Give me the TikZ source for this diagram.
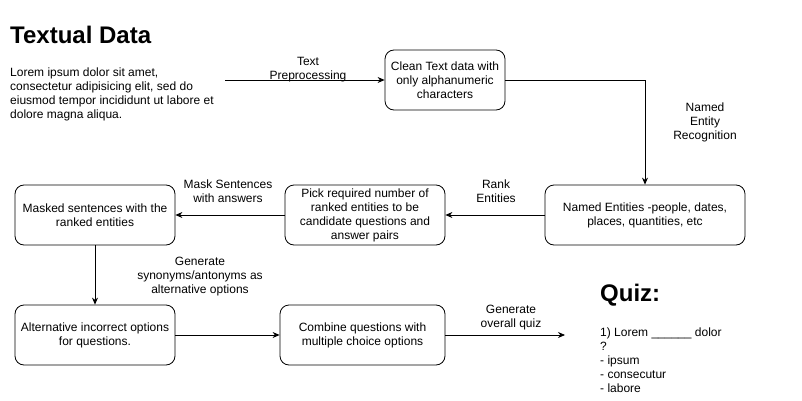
\documentclass[tikz,border=0pt]{standalone}
\usepackage{fontspec}
\setmainfont{Liberation Sans}
\usetikzlibrary{arrows.meta}
\begin{document}
\begin{tikzpicture}[x=1pt,y=-1pt,
  box/.style={draw=black,line width=0.8pt,rounded corners=9pt,align=center,inner sep=0pt,font=\fontsize{12}{14}\selectfont},
  lbl/.style={align=center,inner sep=0pt,font=\fontsize{12}{14}\selectfont},
  conn/.style={draw=black,line width=0.8pt,-{Stealth[length=7pt,width=6pt]}}]
\useasboundingbox (0,0) rectangle (802,401);
% title and text
\node[anchor=west,inner sep=0pt,font=\bfseries\fontsize{24}{28}\selectfont] (title) at (10,35) {Textual Data};
\node[anchor=north west,align=left,inner sep=0pt,font=\fontsize{12}{14}\selectfont] (lorem) at (10,68) {Lorem ipsum dolor sit amet,\\consectetur adipisicing elit, sed do\\eiusmod tempor incididunt ut labore et\\dolore magna aliqua.};
\coordinate (s) at (225,80);
% boxes
\node[box,minimum width=120pt,minimum height=60pt] (clean) at (445,80) {Clean Text data with\\only alphanumeric\\characters};
\node[box,minimum width=200pt,minimum height=60pt] (ne) at (645,215) {Named Entities -people, dates,\\places, quantities, etc};
\node[box,minimum width=160pt,minimum height=60pt] (pick) at (365,215) {Pick required number of\\ranked entities to be\\candidate questions and\\answer pairs};
\node[box,minimum width=160pt,minimum height=60pt] (mask) at (95,215) {Masked sentences with the\\ranked entities};
\node[box,minimum width=160pt,minimum height=60pt] (alt) at (95,335) {Alternative incorrect options\\for questions.};
\node[box,minimum width=165pt,minimum height=60pt] (comb) at (362.5,335) {Combine questions with\\multiple choice options};
\coordinate (e) at (565,335);
% quiz
\node[anchor=west,inner sep=0pt,font=\bfseries\fontsize{24}{28}\selectfont] (quiz) at (600,295) {Quiz:};
\node[anchor=north west,align=left,inner sep=0pt,font=\fontsize{12}{14}\selectfont] (qtext) at (600,328) {1) Lorem \_\_\_\_\_\_ dolor\\?\\- ipsum\\- consecutur\\- labore};
% connectors
\draw[conn] (s) -- (clean.west);
\node[lbl] (l1) at (308,70) {Text\\Preprocessing};
\draw[conn] (clean.east) -| (ne.north);
\node[lbl] (l2) at (705,122) {Named\\Entity\\Recognition};
\draw[conn] (ne.west) -- (pick.east);
\node[lbl] (l3) at (496,191) {Rank\\Entities};
\draw[conn] (pick.west) -- (mask.east);
\node[lbl] (l4) at (228,191) {Mask Sentences\\with answers};
\draw[conn] (mask.south) -- (alt.north);
\node[lbl] (l5) at (200,277) {Generate\\synonyms/antonyms as\\alternative options};
\draw[conn] (alt.east) -- (comb.west);
\draw[conn] (comb.east) -- (e);
\node[lbl] (l6) at (511,318) {Generate\\overall quiz};
\end{tikzpicture}
\end{document}
